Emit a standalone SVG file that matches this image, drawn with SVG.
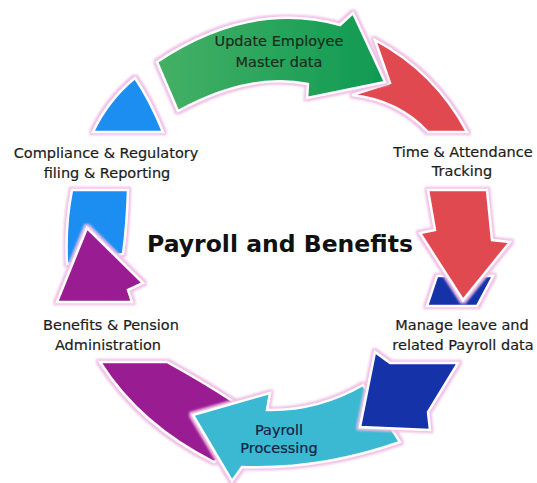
<svg xmlns="http://www.w3.org/2000/svg" width="537" height="483" viewBox="0 0 537 483">
<defs>
<filter id="glow" x="-20%" y="-20%" width="140%" height="140%">
<feMorphology in="SourceAlpha" operator="dilate" radius="1.8" result="d"/>
<feGaussianBlur in="d" stdDeviation="1.3" result="b"/>
<feFlood flood-color="#f0c0e6"/>
<feComposite in2="b" operator="in" result="g"/>
<feMerge><feMergeNode in="g"/><feMergeNode in="SourceGraphic"/></feMerge>
</filter>
<linearGradient id="gGreen" x1="0" y1="0" x2="1" y2="0">
<stop offset="0" stop-color="#45b066"/>
<stop offset="1" stop-color="#0f9a52"/>
</linearGradient>
</defs>
<style>
.sh{stroke:#fff;stroke-width:2.5;stroke-linejoin:miter;filter:url(#glow)}
.lbl{font-family:"DejaVu Sans",Verdana,sans-serif;font-size:14.5px;fill:#1c1c1c;stroke:#1c1c1c;stroke-width:0.2;text-anchor:middle}
.title{font-family:"DejaVu Sans",Verdana,sans-serif;font-weight:bold;font-size:23.5px;fill:#111;text-anchor:middle}
</style>
<rect width="537" height="483" fill="#fff"/>
<g id="connectors"></g>
<g id="compliance">
<path class="sh" fill="#1b8ef2" d="M135,78 Q150,100 163,132 L93,132 Q108,100 135,78 Z"/>
<path class="sh" fill="#1b8ef2" d="M72,190 L128,190 Q127,225 123,254 L67,264 Q65,225 72,190 Z"/>
<text class="lbl" x="106" y="158">Compliance &amp; Regulatory</text>
<text class="lbl" x="107" y="178">filing &amp; Reporting</text>
</g>
<g id="benefits">
<path class="sh" fill="#9a1c92" d="M100,362 L167,362 Q200,380 234,402 L238,446 L214,462 Q140,425 100,362 Z"/>
<path class="sh" fill="#9a1c92" d="M87,228 L143,283 L128,290 L132,302 L57,302 Z"/>
<text class="lbl" x="111" y="330">Benefits &amp; Pension</text>
<text class="lbl" x="108" y="350">Administration</text>
</g>
<g id="processing">
<path class="sh" fill="#3ab8d2" d="M363,385 Q318,411 267,410 L270,393 L193,415 L232,481 L242,467 Q320,470 400,442 Z"/>
<text class="lbl" x="279" y="435" style="fill:#14233f;stroke:#14233f">Payroll</text>
<text class="lbl" x="279" y="453" style="fill:#14233f;stroke:#14233f">Processing</text>
</g>
<g id="leave">
<path class="sh" fill="#1230a8" d="M375,352 L390,363 L458,363 L428,412 L430,430 L360,427 Z"/>
<path class="sh" fill="#1230a8" d="M437,276 L493,276 L477,306 L427,306 Z"/>
<text class="lbl" x="462" y="330">Manage leave and</text>
<text class="lbl" x="463" y="350">related Payroll data</text>
</g>
<g id="time">
<path class="sh" fill="#e04850" d="M375,40 Q435,72 467,132 L428,132 Q398,100 352,95 L390,83 Z"/>
<path class="sh" fill="#e04850" d="M428,190 L487,190 L492,240 L510,242 L463,300 L420,233 L435,230 Z"/>
<text class="lbl" x="463" y="157">Time &amp; Attendance</text>
<text class="lbl" x="462" y="176">Tracking</text>
</g>
<g id="update">
<path class="sh" fill="url(#gGreen)" d="M157,62 Q250,0 340,25 L353,13 L385,82 L307,98 L308,84 Q250,72 178,111 Z"/>
<text class="lbl" x="279" y="46" style="fill:#1a2e1e;stroke:#1a2e1e">Update Employee</text>
<text class="lbl" x="279" y="67" style="fill:#1a2e1e;stroke:#1a2e1e">Master data</text>
</g>
<g id="center">
<text class="title" x="280" y="252">Payroll and Benefits</text>
</g>
</svg>
